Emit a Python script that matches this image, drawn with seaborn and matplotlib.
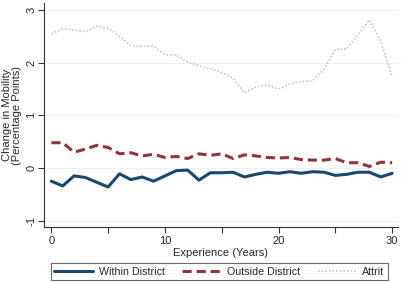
import numpy as np
import pandas as pd
import matplotlib
matplotlib.use("Agg")
import matplotlib.pyplot as plt
import seaborn as sns

years = list(range(0, 31))
within = [-0.25, -0.34, -0.15, -0.18, -0.27, -0.36, -0.11, -0.22, -0.17, -0.25,
          -0.15, -0.05, -0.04, -0.23, -0.09, -0.09, -0.08, -0.17, -0.12, -0.08,
          -0.10, -0.07, -0.10, -0.07, -0.08, -0.14, -0.12, -0.08, -0.08, -0.17, -0.10]
outside = [0.48, 0.48, 0.30, 0.36, 0.43, 0.39, 0.27, 0.29, 0.23, 0.26,
           0.20, 0.22, 0.18, 0.27, 0.24, 0.27, 0.18, 0.25, 0.23, 0.20,
           0.19, 0.20, 0.16, 0.15, 0.15, 0.18, 0.10, 0.10, 0.03, 0.11, 0.10]
attrit = [2.55, 2.64, 2.62, 2.59, 2.69, 2.66, 2.50, 2.32, 2.31, 2.31,
          2.15, 2.14, 2.01, 1.94, 1.89, 1.81, 1.70, 1.43, 1.54, 1.58,
          1.50, 1.60, 1.64, 1.66, 1.87, 2.25, 2.26, 2.53, 2.81, 2.41, 1.73]
series_names = ["Within District", "Outside District", "Attrit"]

df = pd.DataFrame({"year": years, series_names[0]: within,
                   series_names[1]: outside, series_names[2]: attrit})
long = df.melt(id_vars="year", var_name="group", value_name="change")

sns.set_style("white")
plt.rcParams['font.family'] = ['Liberation Sans', 'DejaVu Sans']

fig = plt.figure(figsize=(4.08, 2.82), dpi=100)
ax = fig.add_axes([0.108, 0.194, 0.867, 0.795])

palette = {"Within District": "#1a476f", "Outside District": "#90353b", "Attrit": "#cfcdc4"}
styles = {"Within District": (None, 2.2), "Outside District": ((3, 1.6), 2.2), "Attrit": ((1, 1), 1.3)}
for name in series_names:
    sub = long[long["group"] == name]
    dash, lw = styles[name]
    sns.lineplot(data=sub, x="year", y="change", ax=ax, color=palette[name],
                 linewidth=lw, label=name)
    if dash is not None:
        ax.lines[-1].set_dashes(dash)

ax.set_xlim(-0.64, 30.5)
ax.set_ylim(-1.125, 3.13)
ax.set_xticks([0, 5, 10, 15, 20, 25, 30])
ax.set_xticklabels(["0", "", "10", "", "20", "", "30"])
ax.set_yticks([-1, 0, 1, 2, 3])
ax.set_yticklabels(["-1", "0", "1", "2", "3"], rotation=90, va="center")
ax.tick_params(axis="both", labelsize=8, length=4, width=0.8, color="#333333",
               direction="out")
ax.tick_params(axis="x", pad=2)
ax.tick_params(axis="y", pad=1.5)
ax.tick_params(left=True, bottom=True)
for y in [-1, 0, 1, 2, 3]:
    ax.axhline(y, color="#eaf2f3", linewidth=0.8, zorder=0)
for s in ["top", "right"]:
    ax.spines[s].set_visible(False)
for s in ["left", "bottom"]:
    ax.spines[s].set_color("#333333")
    ax.spines[s].set_linewidth(0.8)

ax.set_xlabel("Experience (Years)", fontsize=8, labelpad=2)
ax.set_ylabel("Change in Mobility\n(Percentage Points)", fontsize=8, linespacing=1.05,
              va="center", ha="center")
ax.yaxis.set_label_coords(-0.09, 0.5)

ax.legend_.remove()
handles, labels = ax.get_legend_handles_labels()
leg = fig.legend(handles, labels, loc="center", bbox_to_anchor=(0.538, 0.037), ncol=3,
                 fontsize=7.7, frameon=True, fancybox=False, handlelength=3.6,
                 columnspacing=1.6, handletextpad=0.6, borderpad=0.35)
leg.get_frame().set_edgecolor("#444444")
leg.get_frame().set_linewidth(0.8)

fig.savefig("out.png", dpi=100)
